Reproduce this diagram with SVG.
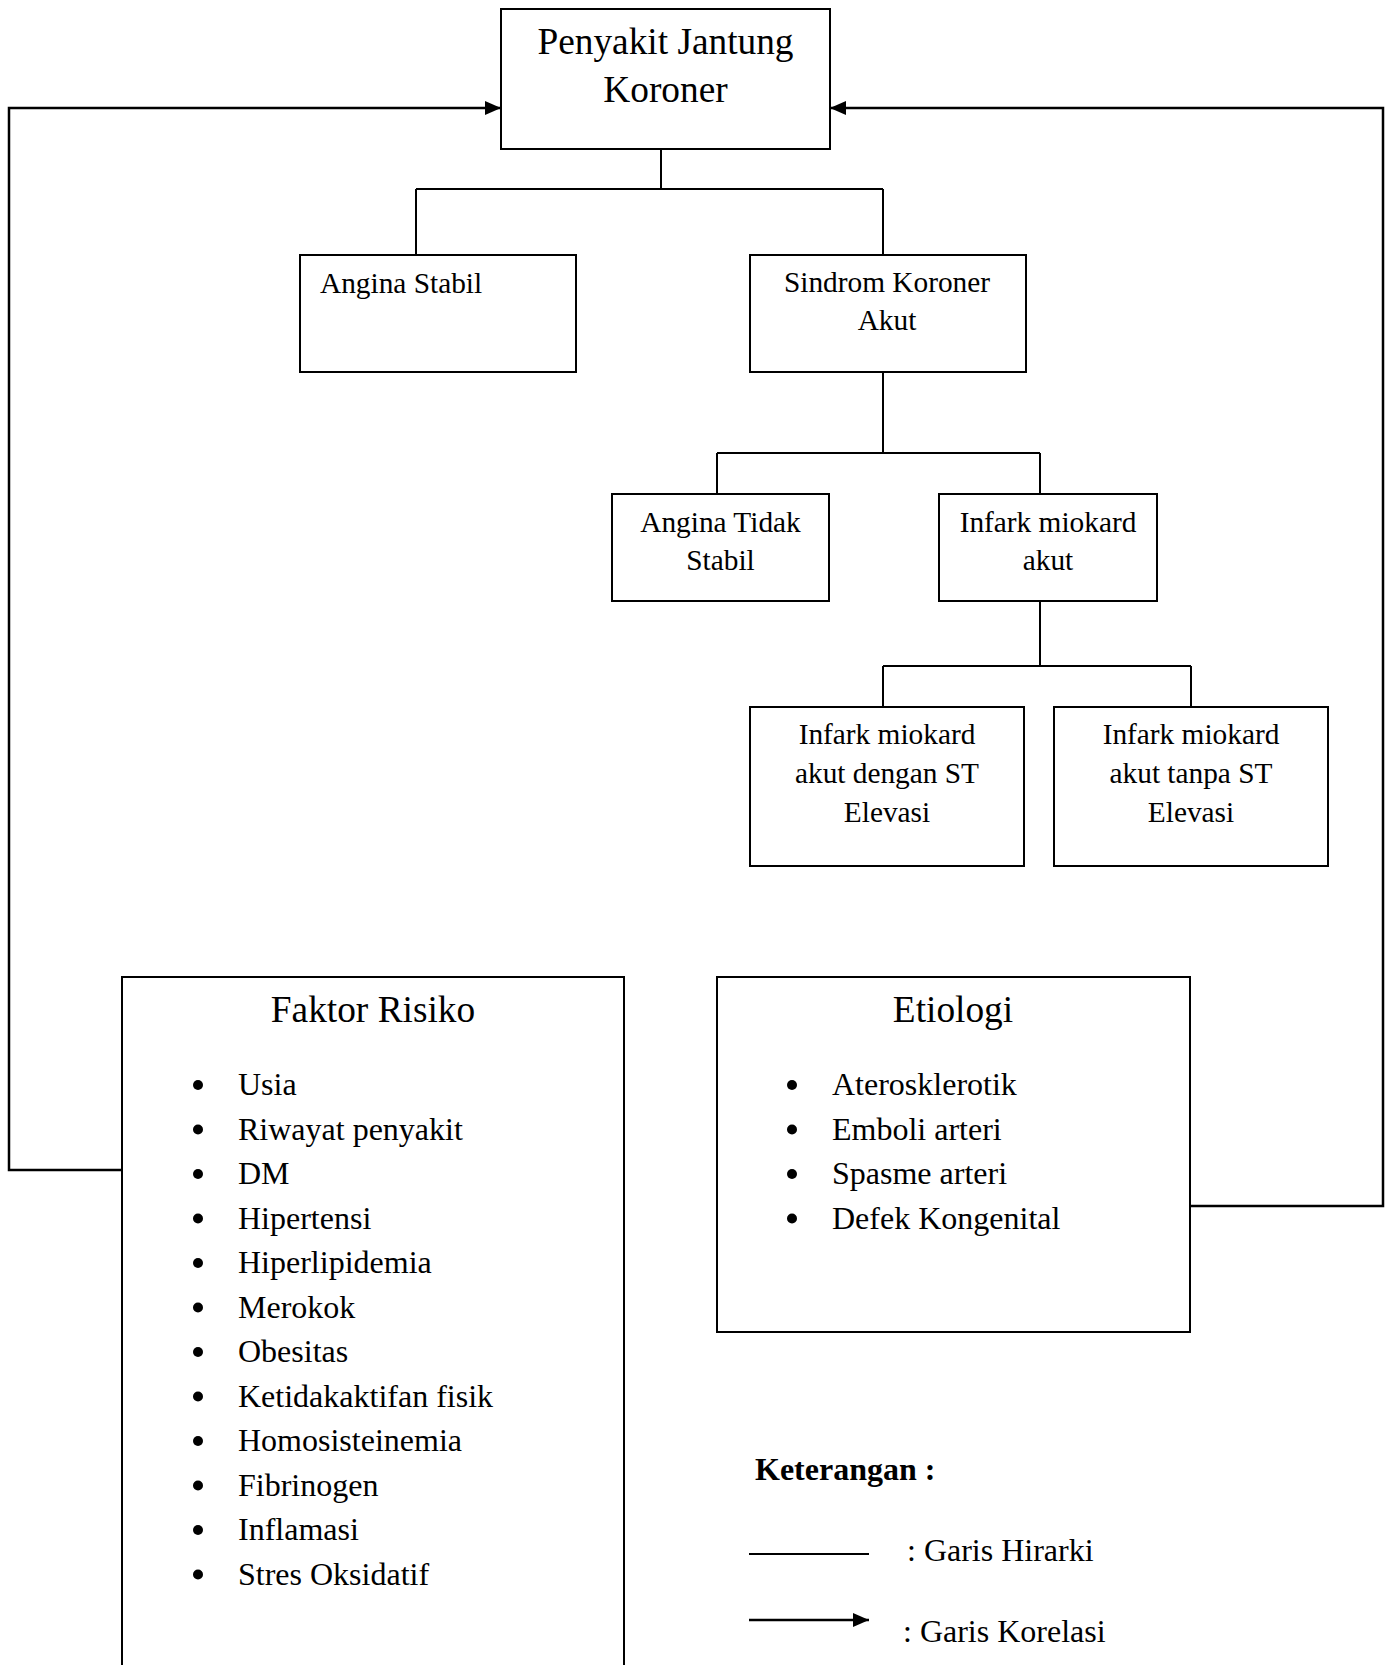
<svg xmlns="http://www.w3.org/2000/svg" width="1391" height="1665" viewBox="0 0 1391 1665">
<style>
  .box { fill: #fff; stroke: #000; stroke-width: 2; }
  .line { fill: none; stroke: #000; stroke-width: 2; }
  .arr { fill: none; stroke: #000; stroke-width: 2.5; }
  text { font-family: "Liberation Serif", "Times New Roman", serif; fill: #000; }
  .t37 { font-size: 37.33px; }
  .t29 { font-size: 29.33px; }
  .t32 { font-size: 32px; }
  .c { text-anchor: middle; }
  .b { font-weight: bold; }
</style>
<defs>
  <marker id="ah" markerUnits="userSpaceOnUse" markerWidth="16" markerHeight="14" refX="16" refY="7" orient="auto">
    <path d="M0,0 L16,7 L0,14 z" fill="#000"/>
  </marker>
</defs>
<rect width="1391" height="1665" fill="#fff"/>

<g id="connectors">
  <path class="line" d="M661,149 V189 M416,189 H883 M416,189 V255 M883,189 V255"/>
  <path class="line" d="M883,372 V453 M717,453 H1040 M717,453 V494 M1040,453 V494"/>
  <path class="line" d="M1040,601 V666 M883,666 H1191 M883,666 V707 M1191,666 V707"/>
  <path class="arr" d="M122,1170 H9 V108 H501" marker-end="url(#ah)"/>
  <path class="arr" d="M1190,1206 H1383 V108 H830" marker-end="url(#ah)"/>
</g>

<g id="pjk">
  <rect class="box" x="501" y="9" width="329" height="140"/>
  <text class="t37 c" x="665.5" y="54">Penyakit Jantung</text>
  <text class="t37 c" x="665.5" y="102">Koroner</text>
</g>

<g id="angina-stabil">
  <rect class="box" x="300" y="255" width="276" height="117"/>
  <text class="t29" x="320" y="293">Angina Stabil</text>
</g>

<g id="ska">
  <rect class="box" x="750" y="255" width="276" height="117"/>
  <text class="t29 c" x="887" y="292">Sindrom Koroner</text>
  <text class="t29 c" x="887" y="330">Akut</text>
</g>

<g id="angina-tidak-stabil">
  <rect class="box" x="612" y="494" width="217" height="107"/>
  <text class="t29 c" x="720.5" y="532">Angina Tidak</text>
  <text class="t29 c" x="720.5" y="570">Stabil</text>
</g>

<g id="infark-akut">
  <rect class="box" x="939" y="494" width="218" height="107"/>
  <text class="t29 c" x="1048" y="532">Infark miokard</text>
  <text class="t29 c" x="1048" y="570">akut</text>
</g>

<g id="stemi">
  <rect class="box" x="750" y="707" width="274" height="159"/>
  <text class="t29 c" x="887" y="744">Infark miokard</text>
  <text class="t29 c" x="887" y="783">akut dengan ST</text>
  <text class="t29 c" x="887" y="822">Elevasi</text>
</g>

<g id="nstemi">
  <rect class="box" x="1054" y="707" width="274" height="159"/>
  <text class="t29 c" x="1191" y="744">Infark miokard</text>
  <text class="t29 c" x="1191" y="783">akut tanpa ST</text>
  <text class="t29 c" x="1191" y="822">Elevasi</text>
</g>

<g id="faktor-risiko">
  <rect class="box" x="122" y="977" width="502" height="720"/>
  <text class="t37 c" x="373" y="1022">Faktor Risiko</text>
  <g fill="#000">
    <circle cx="198" cy="1085" r="5"/>
    <circle cx="198" cy="1129.5" r="5"/>
    <circle cx="198" cy="1174" r="5"/>
    <circle cx="198" cy="1218.5" r="5"/>
    <circle cx="198" cy="1263" r="5"/>
    <circle cx="198" cy="1307.5" r="5"/>
    <circle cx="198" cy="1352" r="5"/>
    <circle cx="198" cy="1396.5" r="5"/>
    <circle cx="198" cy="1441" r="5"/>
    <circle cx="198" cy="1485.5" r="5"/>
    <circle cx="198" cy="1530" r="5"/>
    <circle cx="198" cy="1574.5" r="5"/>
  </g>
  <text class="t32" x="238" y="1095">Usia</text>
  <text class="t32" x="238" y="1139.5">Riwayat penyakit</text>
  <text class="t32" x="238" y="1184">DM</text>
  <text class="t32" x="238" y="1228.5">Hipertensi</text>
  <text class="t32" x="238" y="1273">Hiperlipidemia</text>
  <text class="t32" x="238" y="1317.5">Merokok</text>
  <text class="t32" x="238" y="1362">Obesitas</text>
  <text class="t32" x="238" y="1406.5">Ketidakaktifan fisik</text>
  <text class="t32" x="238" y="1451">Homosisteinemia</text>
  <text class="t32" x="238" y="1495.5">Fibrinogen</text>
  <text class="t32" x="238" y="1540">Inflamasi</text>
  <text class="t32" x="238" y="1584.5">Stres Oksidatif</text>
</g>

<g id="etiologi">
  <rect class="box" x="717" y="977" width="473" height="355"/>
  <text class="t37 c" x="953" y="1022">Etiologi</text>
  <g fill="#000">
    <circle cx="792" cy="1085" r="5"/>
    <circle cx="792" cy="1129.5" r="5"/>
    <circle cx="792" cy="1174" r="5"/>
    <circle cx="792" cy="1218.5" r="5"/>
  </g>
  <text class="t32" x="832" y="1095">Aterosklerotik</text>
  <text class="t32" x="832" y="1139.5">Emboli arteri</text>
  <text class="t32" x="832" y="1184">Spasme arteri</text>
  <text class="t32" x="832" y="1228.5">Defek Kongenital</text>
</g>

<g id="legend">
  <text class="t32 b" x="755" y="1480">Keterangan :</text>
  <line class="line" x1="749" y1="1554" x2="869" y2="1554"/>
  <text class="t32" x="907" y="1561">: Garis Hirarki</text>
  <line class="arr" x1="749" y1="1620" x2="869" y2="1620" marker-end="url(#ah)"/>
  <text class="t32" x="903" y="1642">: Garis Korelasi</text>
</g>
</svg>
